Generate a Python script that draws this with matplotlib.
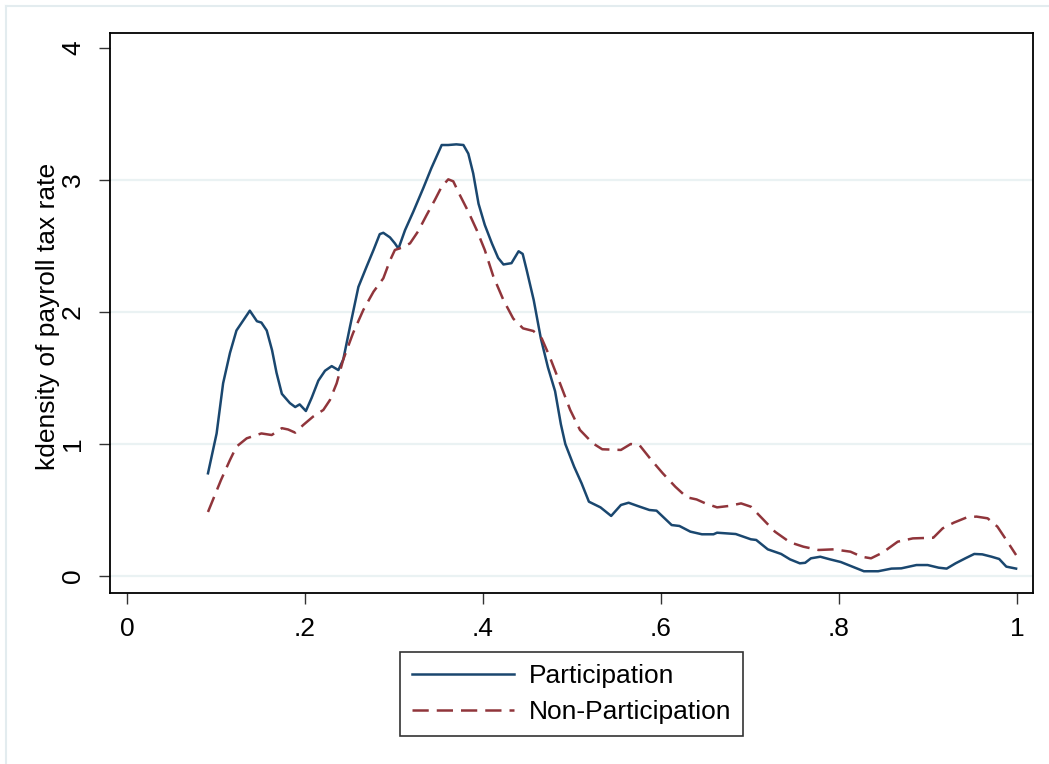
import numpy as np
import matplotlib.pyplot as plt
from matplotlib.lines import Line2D

plt.rcParams['font.family'] = ['Liberation Sans', 'DejaVu Sans']

# kernel density
part_x = [0.091, 0.1007, 0.108, 0.1157, 0.123, 0.131, 0.138, 0.146, 0.151, 0.157,
          0.163, 0.168, 0.174, 0.183, 0.189, 0.194, 0.201, 0.2075, 0.215, 0.2225,
          0.230, 0.2375, 0.243, 0.2506, 0.260, 0.269, 0.277, 0.284, 0.288, 0.2955,
          0.301, 0.305, 0.3124, 0.3217, 0.333, 0.342, 0.3536, 0.361, 0.370, 0.378,
          0.3835, 0.389, 0.395, 0.402, 0.410, 0.417, 0.423, 0.432, 0.440, 0.4446,
          0.449, 0.457, 0.465, 0.473, 0.481, 0.4875, 0.4925, 0.5024, 0.5108, 0.519,
          0.532, 0.544, 0.555, 0.5636, 0.574, 0.587, 0.595, 0.612, 0.6207, 0.633,
          0.646, 0.659, 0.663, 0.684, 0.701, 0.707, 0.720, 0.735, 0.745, 0.756,
          0.762, 0.7685, 0.779, 0.790, 0.802, 0.815, 0.828, 0.844, 0.859, 0.870,
          0.887, 0.8996, 0.912, 0.921, 0.931, 0.942, 0.952, 0.961, 0.9715, 0.980,
          0.988, 0.999]
part_y = [0.778, 1.08, 1.46, 1.69, 1.86, 1.94, 2.01, 1.93, 1.92, 1.86,
          1.71, 1.54, 1.38, 1.31, 1.28, 1.30, 1.25, 1.35, 1.48, 1.555,
          1.59, 1.56, 1.64, 1.89, 2.19, 2.34, 2.47, 2.59, 2.60, 2.565,
          2.52, 2.48, 2.62, 2.76, 2.94, 3.09, 3.265, 3.265, 3.27, 3.265,
          3.20, 3.05, 2.82, 2.66, 2.52, 2.41, 2.36, 2.37, 2.46, 2.44,
          2.32, 2.09, 1.80, 1.58, 1.40, 1.15, 1.00, 0.828, 0.702, 0.563,
          0.52, 0.455, 0.538, 0.555, 0.53, 0.50, 0.495, 0.386, 0.379, 0.336,
          0.316, 0.316, 0.328, 0.318, 0.278, 0.273, 0.202, 0.167, 0.126, 0.096,
          0.10, 0.134, 0.146, 0.126, 0.106, 0.071, 0.036, 0.036, 0.056, 0.058,
          0.083, 0.083, 0.063, 0.056, 0.096, 0.134, 0.167, 0.164, 0.146, 0.129,
          0.071, 0.056]

nonpart_x = [0.091, 0.1056, 0.1157, 0.123, 0.1345, 0.151, 0.1626, 0.174, 0.181, 0.189,
             0.198, 0.209, 0.2206, 0.228, 0.2356, 0.243, 0.254, 0.2655, 0.277, 0.288,
             0.2955, 0.301, 0.3086, 0.318, 0.327, 0.3367, 0.346, 0.3536, 0.361, 0.3666,
             0.374, 0.3835, 0.393, 0.402, 0.4116, 0.423, 0.434, 0.445, 0.4566, 0.466,
             0.475, 0.4865, 0.498, 0.509, 0.518, 0.5235, 0.534, 0.555, 0.566, 0.576,
             0.589, 0.602, 0.616, 0.629, 0.640, 0.650, 0.663, 0.6756, 0.690, 0.701,
             0.7136, 0.728, 0.745, 0.760, 0.777, 0.794, 0.813, 0.8256, 0.836, 0.849,
             0.866, 0.883, 0.906, 0.9165, 0.929, 0.944, 0.9545, 0.967, 0.978, 0.988,
             0.999]
nonpart_y = [0.485, 0.727, 0.879, 0.98, 1.043, 1.08, 1.068, 1.12, 1.11, 1.086,
             1.144, 1.207, 1.258, 1.333, 1.46, 1.64, 1.84, 2.015, 2.154, 2.255,
             2.39, 2.47, 2.487, 2.52, 2.61, 2.735, 2.85, 2.95, 3.005, 2.99,
             2.886, 2.76, 2.62, 2.47, 2.27, 2.09, 1.95, 1.876, 1.856, 1.80,
             1.66, 1.46, 1.258, 1.106, 1.043, 1.005, 0.96, 0.955, 1.00, 0.99,
             0.88, 0.778, 0.677, 0.596, 0.58, 0.55, 0.52, 0.53, 0.55, 0.525,
             0.437, 0.336, 0.255, 0.222, 0.197, 0.202, 0.184, 0.146, 0.134, 0.177,
             0.26, 0.285, 0.29, 0.361, 0.404, 0.445, 0.45, 0.437, 0.374, 0.273,
             0.159]

x_ticks = [0, 0.2, 0.4, 0.6, 0.8, 1.0]
x_labels = ['0', '.2', '.4', '.6', '.8', '1']
y_ticks = [0, 1, 2, 3, 4]
grid_at = [0, 1, 2, 3]

navy = '#1a476f'
maroon = '#90353b'

W, H = 1049, 764
fig = plt.figure(figsize=(W / 100, H / 100), dpi=100)
ax = fig.add_axes([110 / W, 1 - 593 / H, 923 / W, 560 / H])

for g in grid_at:
    ax.axhline(g, color='#eaf2f3', lw=1.6, zorder=0)

ax.plot(part_x, part_y, color=navy, lw=1.8, label='Participation')
ax.plot(nonpart_x, nonpart_y, color=maroon, lw=1.8, dashes=(6.5, 3.2),
        dash_capstyle='butt', label='Non-Participation')

ax.set_xlim(-0.0191, 1.018)
ax.set_ylim(-0.1288, 4.1136)
ax.set_xticks(x_ticks)
ax.set_xticklabels(x_labels)
ax.set_yticks(y_ticks)
ax.set_yticklabels([str(v) for v in y_ticks], rotation=90, va='center')
ax.tick_params(axis='both', direction='out', length=8, width=1, color='#333333',
               labelsize=19, labelcolor='black')
ax.tick_params(axis='x', pad=9)
ax.tick_params(axis='y', pad=10)
for s in ax.spines.values():
    s.set_linewidth(1.3)
    s.set_color('black')

fig.text(48 / W, 1 - 316 / H, 'kdensity of payroll tax rate', rotation=90,
         ha='center', va='center', fontsize=19)

leg = ax.legend(loc='center', bbox_to_anchor=(571.5 / W, 1 - 694 / H),
                bbox_transform=fig.transFigure, fontsize=19, frameon=True,
                fancybox=False, handlelength=3.9, handletextpad=0.55,
                labelspacing=0.45, borderpad=0.45, borderaxespad=0)
leg.get_frame().set_edgecolor('black')
leg.get_frame().set_linewidth(1.2)

# light outer frame of the graph region
border = '#e3ecef'
fig.add_artist(Line2D([6 / W, 1], [1 - 6 / H, 1 - 6 / H], color=border, lw=1.5,
                      transform=fig.transFigure))
fig.add_artist(Line2D([6 / W, 6 / W], [0, 1 - 6 / H], color=border, lw=1.5,
                      transform=fig.transFigure))

fig.savefig('out.png', dpi=100)
